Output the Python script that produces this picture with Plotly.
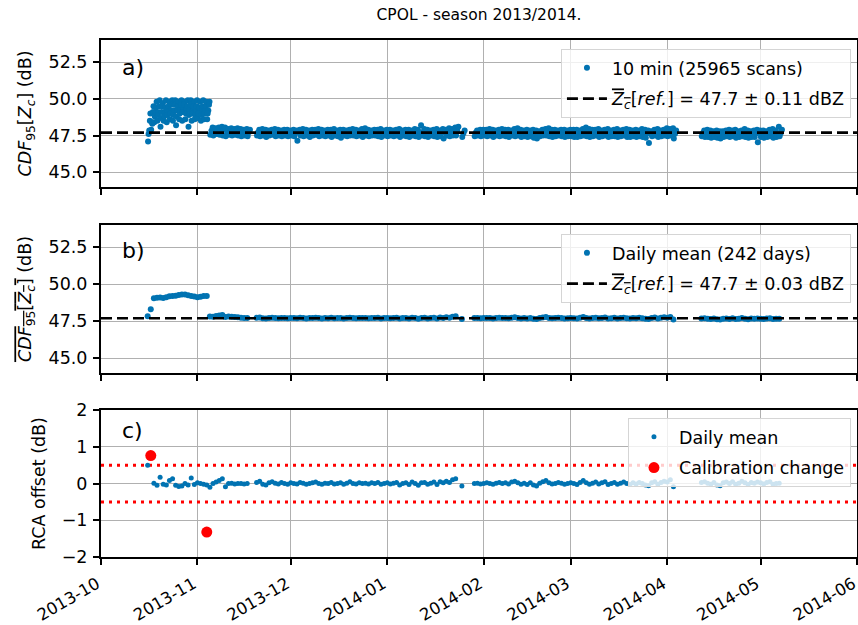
import pandas as pd
import numpy as np
import plotly.graph_objects as go

nan = float("nan")

# ---------------- data ----------------
segments = [("2013-10-16", "2013-11-17"), ("2013-11-20", "2014-01-25"),
            ("2014-01-29", "2014-04-03"), ("2014-04-12", "2014-05-07")]

# RCA offset (dB), daily
rca_seg1 = [0.50, 0.74, 0.01, -0.05, 0.17, -0.02, -0.04, 0.08, 0.13, -0.05, -0.08, -0.07, 0.00,
            -0.04, 0.15, -0.03, 0.02, 0.00, -0.02, -0.04, -0.10, 0.00, 0.04, 0.08, 0.13, -0.09,
            0.00, 0.01, -0.01, 0.00, 0.00, -0.01, 0.00]
rca_seg2 = [0.03, 0.06, -0.02, -0.04, 0.02, 0.05, 0.01, -0.01, 0.03, 0.00, -0.02,
            0.02, 0.00, -0.01, 0.03, 0.01, -0.02, 0.00, 0.02, 0.04, 0.00, -0.02, 0.01, 0.00, 0.03,
            -0.01, 0.00, 0.02, -0.02, 0.01, 0.05, 0.00, -0.01, 0.02, 0.00, 0.01, -0.01, 0.02, 0.00,
            0.03, -0.02, 0.00,
            0.02, -0.01, 0.01, 0.03, -0.04, 0.00, 0.02, -0.03, 0.04, 0.00, -0.05, 0.02, 0.03, -0.02,
            0.01, 0.04, -0.03, 0.05, 0.02, 0.06, 0.03, 0.10, 0.13, nan, -0.07]
rca_seg3 = [0.00, 0.01, -0.01,
            0.00, 0.02, 0.00, -0.02, 0.01, 0.03, 0.00, 0.02, -0.01, 0.04, 0.06, 0.02, -0.02, 0.01,
            -0.03, 0.02, -0.04, -0.07, 0.01, 0.05, 0.08, 0.02, -0.01, 0.00, 0.03, 0.01, -0.02, 0.00,
            0.02, 0.00, -0.03, 0.03, 0.08, 0.02, -0.02, 0.01, 0.04, -0.01, 0.02, 0.05, -0.03, 0.00,
            0.03, -0.02, 0.01, 0.04, 0.00, -0.03, 0.02, -0.01, 0.03, 0.00, -0.04, -0.06, 0.02, 0.05,
            -0.02, 0.03, 0.06,
            0.04, 0.10, -0.09]
rca_seg4 = [0.03, 0.05, 0.01, -0.02, 0.03, -0.04, -0.06, 0.02, 0.04, 0.00, 0.05, -0.02, 0.01,
            0.06, 0.02, -0.03, 0.03, 0.01, 0.04, 0.02, -0.01, 0.03, 0.05, -0.02, 0.00, 0.01]

# daily mean CDF95 (dB)
mean_seg1 = [47.84, 48.30, 49.05, 49.08, 49.10, 49.06, 49.12, 49.18, 49.20, 49.22, 49.27, 49.30,
             49.30, 49.25, 49.20, 49.17, 49.12, 49.15, 49.20, 49.20, 47.82, 47.80, 47.85, 47.88,
             47.92, 47.78, 47.82, 47.80, 47.78, 47.76, 47.74, 47.72, 47.72]
mean_seg2 = [47.73, 47.75, 47.70, 47.69, 47.72, 47.74, 47.71, 47.70, 47.72, 47.71, 47.70,
             47.72, 47.71, 47.70, 47.73, 47.71, 47.69, 47.71, 47.72, 47.74, 47.71, 47.69, 47.71,
             47.70, 47.73, 47.70, 47.71, 47.72, 47.69, 47.71, 47.74, 47.71, 47.70, 47.72, 47.71,
             47.71, 47.70, 47.72, 47.71, 47.73, 47.69, 47.71,
             47.72, 47.70, 47.71, 47.73, 47.68, 47.71, 47.72, 47.69, 47.74, 47.71, 47.67, 47.72,
             47.73, 47.69, 47.71, 47.74, 47.69, 47.75, 47.72, 47.76, 47.73, 47.80, 47.84, nan, 47.65]
mean_seg3 = [47.71, 47.72, 47.70,
             47.71, 47.72, 47.71, 47.69, 47.72, 47.73, 47.71, 47.72, 47.70, 47.74, 47.76, 47.72,
             47.69, 47.71, 47.68, 47.72, 47.67, 47.64, 47.71, 47.75, 47.78, 47.72, 47.70, 47.71,
             47.73, 47.71, 47.69, 47.70,
             47.72, 47.70, 47.68, 47.73, 47.78, 47.72, 47.69, 47.71, 47.74, 47.70, 47.72, 47.75,
             47.68, 47.70, 47.73, 47.69, 47.71, 47.74, 47.70, 47.68, 47.72, 47.70, 47.73, 47.70,
             47.67, 47.65, 47.72, 47.75, 47.69, 47.73, 47.76,
             47.74, 47.79, 47.62]
mean_seg4 = [47.68, 47.70, 47.66, 47.64, 47.68, 47.63, 47.62, 47.67, 47.69, 47.65, 47.70, 47.64,
             47.66, 47.71, 47.67, 47.63, 47.68, 47.66, 47.69, 47.67, 47.65, 47.68, 47.70, 47.64,
             47.66, 47.67]

# 10-min scans: daily low / high envelope (dB)
scan_lo_seg1 = [47.1, 47.9, 48.4, 48.5, 48.1, 48.5, 48.4, 48.6, 48.5, 48.2, 48.6, 48.5, 48.6, 48.1,
                48.5, 48.6, 48.7, 48.5, 48.6, 48.6,
                47.55, 47.5, 47.6, 47.55, 47.5, 47.45, 47.55, 47.5, 47.55, 47.5, 47.45, 47.5, 47.45]
scan_hi_seg1 = [49.0, 49.5, 49.8, 49.9, 49.7, 49.9, 49.8, 49.9, 49.9, 49.8, 49.9, 49.8, 49.9, 49.9,
                49.8, 49.9, 49.8, 49.9, 49.8, 49.8,
                48.05, 48.0, 48.05, 48.1, 48.05, 47.95, 48.0, 47.95, 48.0, 47.95, 47.9, 47.95, 47.9]
scan_q1_early = [47.6, 48.4, 48.8, 48.9, 48.7, 48.8, 48.9, 49.0, 48.9, 48.8, 49.0, 49.1, 49.0, 48.9,
                 49.0, 48.9, 49.0, 48.9, 49.0, 49.0]
scan_q3_early = [48.5, 49.1, 49.4, 49.5, 49.5, 49.4, 49.5, 49.6, 49.6, 49.5, 49.6, 49.6, 49.5, 49.6,
                 49.5, 49.5, 49.4, 49.5, 49.5, 49.6]
scan_lo_seg2 = [47.5, 47.45, 47.5, 47.4, 47.5, 47.55, 47.45, 47.5, 47.45, 47.5, 47.45,
                47.5, 47.45, 47.15, 47.5, 47.45, 47.5, 47.4, 47.5, 47.55, 47.45, 47.5, 47.45, 47.5,
                47.4, 47.5, 47.45, 47.35, 47.5, 47.45, 47.5, 47.5, 47.45, 47.5, 47.4, 47.5, 47.45,
                47.5, 47.5, 47.45, 47.4, 47.5,
                47.45, 47.5, 47.45, 47.5, 47.4, 47.5, 47.45, 47.4, 47.5, 47.45, 47.4, 47.5, 47.45,
                47.4, 47.5, 47.45, 47.4, 47.45, 47.3, 47.5, 47.45, 47.5, 47.5, nan, 47.4]
scan_hi_seg2 = [47.9, 47.95, 47.9, 47.85, 47.9, 47.95, 47.9, 47.85, 47.9, 47.9, 47.85,
                47.9, 47.85, 47.9, 47.95, 47.9, 47.85, 47.9, 47.9, 47.95, 47.9, 47.85, 47.9, 47.9,
                47.95, 47.85, 47.9, 47.9, 47.85, 47.9, 47.95, 47.9, 47.85, 47.95, 48.0, 47.9, 47.85,
                47.9, 47.9, 47.95, 47.85, 47.9,
                47.9, 47.85, 47.9, 47.95, 47.85, 47.9, 47.9, 47.85, 47.95, 47.9, 48.2, 47.95, 47.9,
                47.85, 47.9, 47.95, 47.85, 47.95, 47.9, 48.0, 47.95, 48.05, 48.1, nan, 47.85]
scan_lo_seg3 = [47.45, 47.5, 47.45,
                47.5, 47.45, 47.5, 47.4, 47.5, 47.45, 47.5, 47.45, 47.4, 47.5, 47.45, 47.5, 47.4,
                47.45, 47.4, 47.45, 47.35, 47.3, 47.45, 47.5, 47.5, 47.45, 47.4, 47.45, 47.5, 47.45,
                47.4, 47.45,
                47.45, 47.4, 47.4, 47.45, 47.5, 47.45, 47.4, 47.45, 47.5, 47.4, 47.45, 47.5, 47.4,
                47.45, 47.45, 47.4, 47.45, 47.5, 47.4, 47.4, 47.45, 47.4, 47.45, 47.4, 47.35, 47.0,
                47.45, 47.5, 47.4, 47.45, 47.5,
                47.45, 47.5, 47.3]
scan_hi_seg3 = [47.85, 47.9, 47.9,
                47.9, 47.95, 47.9, 47.85, 47.9, 47.95, 47.9, 47.9, 47.85, 47.95, 48.0, 47.9, 47.85,
                47.9, 47.85, 47.9, 47.85, 47.8, 47.9, 47.95, 48.0, 47.9, 47.9, 47.85, 47.9, 47.9,
                47.85, 47.9,
                47.9, 47.9, 47.85, 47.95, 48.05, 47.95, 47.9, 47.9, 47.95, 47.85, 47.9, 47.95, 47.85,
                47.9, 47.95, 47.85, 47.9, 47.95, 47.9, 47.85, 47.9, 47.85, 47.95, 47.9, 47.85, 47.8,
                47.9, 47.95, 47.85, 47.9, 48.0,
                47.95, 48.0, 47.85]
scan_lo_seg4 = [47.45, 47.4, 47.4, 47.35, 47.4, 47.35, 47.3, 47.4, 47.45, 47.4, 47.45, 47.35, 47.4,
                47.45, 47.4, 47.35, 47.4, 47.4, 47.05, 47.4, 47.35, 47.4, 47.45, 47.35, 47.4, 47.45]
scan_hi_seg4 = [47.85, 47.9, 47.85, 47.8, 47.85, 47.8, 47.8, 47.85, 47.9, 47.85, 47.9, 47.8, 47.85,
                47.95, 47.85, 47.8, 47.85, 47.9, 47.85, 47.85, 47.8, 47.9, 47.95, 47.85, 48.1, 47.9]

calib_dates = ["2013-10-17", "2013-11-04"]
calib_offsets = [0.76, -1.32]

z_ref = 47.7
x_range = ["2013-10-01", "2014-06-01"]
month_ticks = ["2013-10-01", "2013-11-01", "2013-12-01", "2014-01-01", "2014-02-01",
               "2014-03-01", "2014-04-01", "2014-05-01", "2014-06-01"]
month_labels = ["2013-10", "2013-11", "2013-12", "2014-01", "2014-02", "2014-03", "2014-04",
                "2014-05", "2014-06"]

# ---------------- assemble ----------------
days = pd.DatetimeIndex(np.concatenate([pd.date_range(s, e, freq="D").values for s, e in segments]))
rca = rca_seg1 + rca_seg2 + rca_seg3 + rca_seg4
dmean = mean_seg1 + mean_seg2 + mean_seg3 + mean_seg4
slo = scan_lo_seg1 + scan_lo_seg2 + scan_lo_seg3 + scan_lo_seg4
shi = scan_hi_seg1 + scan_hi_seg2 + scan_hi_seg3 + scan_hi_seg4
assert len(days) == len(rca) == len(dmean) == len(slo) == len(shi)

ax_t, ax_v = [], []
for i, d in enumerate(days):
    pts = [(3, slo[i]), (12, dmean[i]), (21, shi[i])]
    if i < len(scan_q1_early):
        pts += [(7, scan_q1_early[i]), (17, scan_q3_early[i])]
    for h, v in pts:
        ax_t.append(d + pd.Timedelta(hours=h))
        ax_v.append(v)

BLUE = "#0173B2"
FONT = "DejaVu Sans"
GRID = "#b0b0b0"
FS = 17.5

fig = go.Figure()

fig.add_trace(go.Scatter(x=ax_t, y=ax_v, mode="markers", marker=dict(size=6, color=BLUE),
                         name="10 min (25965 scans)", xaxis="x", yaxis="y", legend="legend",
                         legendgroup="a1"))
zlab = '<span style="text-decoration:overline"><i>Z<sub>c</sub></i></span>[<i>ref.</i>] = 47.7 ± {} dBZ'
fig.add_trace(go.Scatter(x=x_range, y=[z_ref, z_ref], mode="lines",
                         line=dict(color="black", width=2.6, dash="11px,5px"),
                         name=zlab.format("0.11"), xaxis="x", yaxis="y", legend="legend",
                         legendgroup="a2"))

fig.add_trace(go.Scatter(x=days, y=dmean, mode="markers", marker=dict(size=6, color=BLUE),
                         name="Daily mean (242 days)", xaxis="x2", yaxis="y2", legend="legend2",
                         legendgroup="b1"))
fig.add_trace(go.Scatter(x=x_range, y=[z_ref, z_ref], mode="lines",
                         line=dict(color="black", width=2.6, dash="11px,5px"),
                         name=zlab.format("0.03"), xaxis="x2", yaxis="y2", legend="legend2",
                         legendgroup="b2"))

for lv in (0.5, -0.5):
    fig.add_trace(go.Scatter(x=x_range, y=[lv, lv], mode="lines",
                             line=dict(color="red", width=3, dash="3px,5px"),
                             showlegend=False, hoverinfo="skip", xaxis="x3", yaxis="y3"))
fig.add_trace(go.Scatter(x=days, y=rca, mode="markers", marker=dict(size=5, color=BLUE),
                         name="Daily mean", xaxis="x3", yaxis="y3", legend="legend3",
                         legendgroup="c1"))
fig.add_trace(go.Scatter(x=calib_dates, y=calib_offsets, mode="markers",
                         marker=dict(size=11, color="red"),
                         name="Calibration change", xaxis="x3", yaxis="y3", legend="legend3",
                         legendgroup="c2"))

xcommon = dict(type="date", range=x_range, tickvals=month_ticks, ticktext=month_labels,
               showticklabels=False,
               showgrid=True, gridcolor=GRID, gridwidth=1.3, showline=True, linecolor="black",
               linewidth=2, mirror=True, ticks="outside", ticklen=6, tickwidth=1.8,
               tickcolor="black", zeroline=False, automargin=False)
ycommon = dict(showgrid=True, gridcolor=GRID, gridwidth=1.3, showline=True, linecolor="black",
               linewidth=2, mirror=True, ticks="outside", ticklen=6, tickwidth=1.8,
               tickcolor="black", zeroline=False, automargin=False, ticklabelstandoff=2,
               tickfont=dict(size=FS, family=FONT, color="black"),
               title=dict(font=dict(size=FS, family=FONT, color="black"), standoff=12))

legcommon = dict(bgcolor="rgba(255,255,255,0.8)", bordercolor="#d5d5d5", borderwidth=1,
                 font=dict(size=FS, family=FONT, color="black"), xanchor="right", yanchor="top",
                 tracegroupgap=5, itemwidth=40)

fig.update_layout(
    width=858, height=625,
    margin=dict(l=101, r=1, t=40, b=68),
    paper_bgcolor="white", plot_bgcolor="white",
    font=dict(family=FONT, color="black", size=FS),
    title=dict(text="CPOL - season 2013/2014.", x=(101 + 857) / 2 / 858, xanchor="center",
               y=1 - 15 / 625, yanchor="middle", font=dict(size=15.5, family=FONT, color="black")),
    xaxis=dict(xcommon, domain=[0, 1], anchor="y"),
    xaxis2=dict(xcommon, domain=[0, 1], anchor="y2"),
    xaxis3=dict(xcommon, domain=[0, 1], anchor="y3", showticklabels=True, tickangle=-30,
                ticklabelstandoff=3, ticklabelshift=-4, ticklabeloverflow="allow",
                tickfont=dict(size=16.5, family=FONT, color="black")),
    yaxis=dict(ycommon, domain=[0.7157, 1.0], anchor="x", range=[44, 54],
               tickvals=[45, 47.5, 50, 52.5], ticktext=["45.0", "47.5", "50.0", "52.5"],
               title_text="<i>CDF</i><sub>95</sub>[<i>Z<sub>c</sub></i>] (dB)"),
    yaxis2=dict(ycommon, domain=[0.3559, 0.6422], anchor="x2", range=[44, 54],
                tickvals=[45, 47.5, 50, 52.5], ticktext=["45.0", "47.5", "50.0", "52.5"],
                title_text='<span style="text-decoration:overline"><i>CDF</i><sub>95</sub>[<i>Z<sub>c</sub></i>]</span> (dB)'),
    yaxis3=dict(ycommon, domain=[0.0, 0.2843], anchor="x3", range=[-2, 2],
                tickvals=[-2, -1, 0, 1, 2], ticktext=["−2", "−1", "0", "1", "2"],
                title_text="RCA offset (dB)"),
    legend=dict(legcommon, x=0.992, y=0.9826),
    legend2=dict(legcommon, x=0.992, y=0.6248),
    legend3=dict(legcommon, x=0.992, y=0.2689),
    showlegend=True,
)

for txt, ax, yv in (("a)", "x", 0.816), ("b)", "x2", 0.83), ("c)", "x3", 0.864)):
    fig.add_annotation(text=txt, xref=ax + " domain", yref=("y" + ax[1:]) + " domain",
                       x=0.025, y=yv, xanchor="left", yanchor="middle",
                       showarrow=False, font=dict(size=22, family=FONT, color="black"))

fig.write_html("out.html", config={"displayModeBar": False},
               post_script="document.body.style.margin='0';document.body.style.padding='0';"
                           "document.documentElement.style.overflow='hidden';")
